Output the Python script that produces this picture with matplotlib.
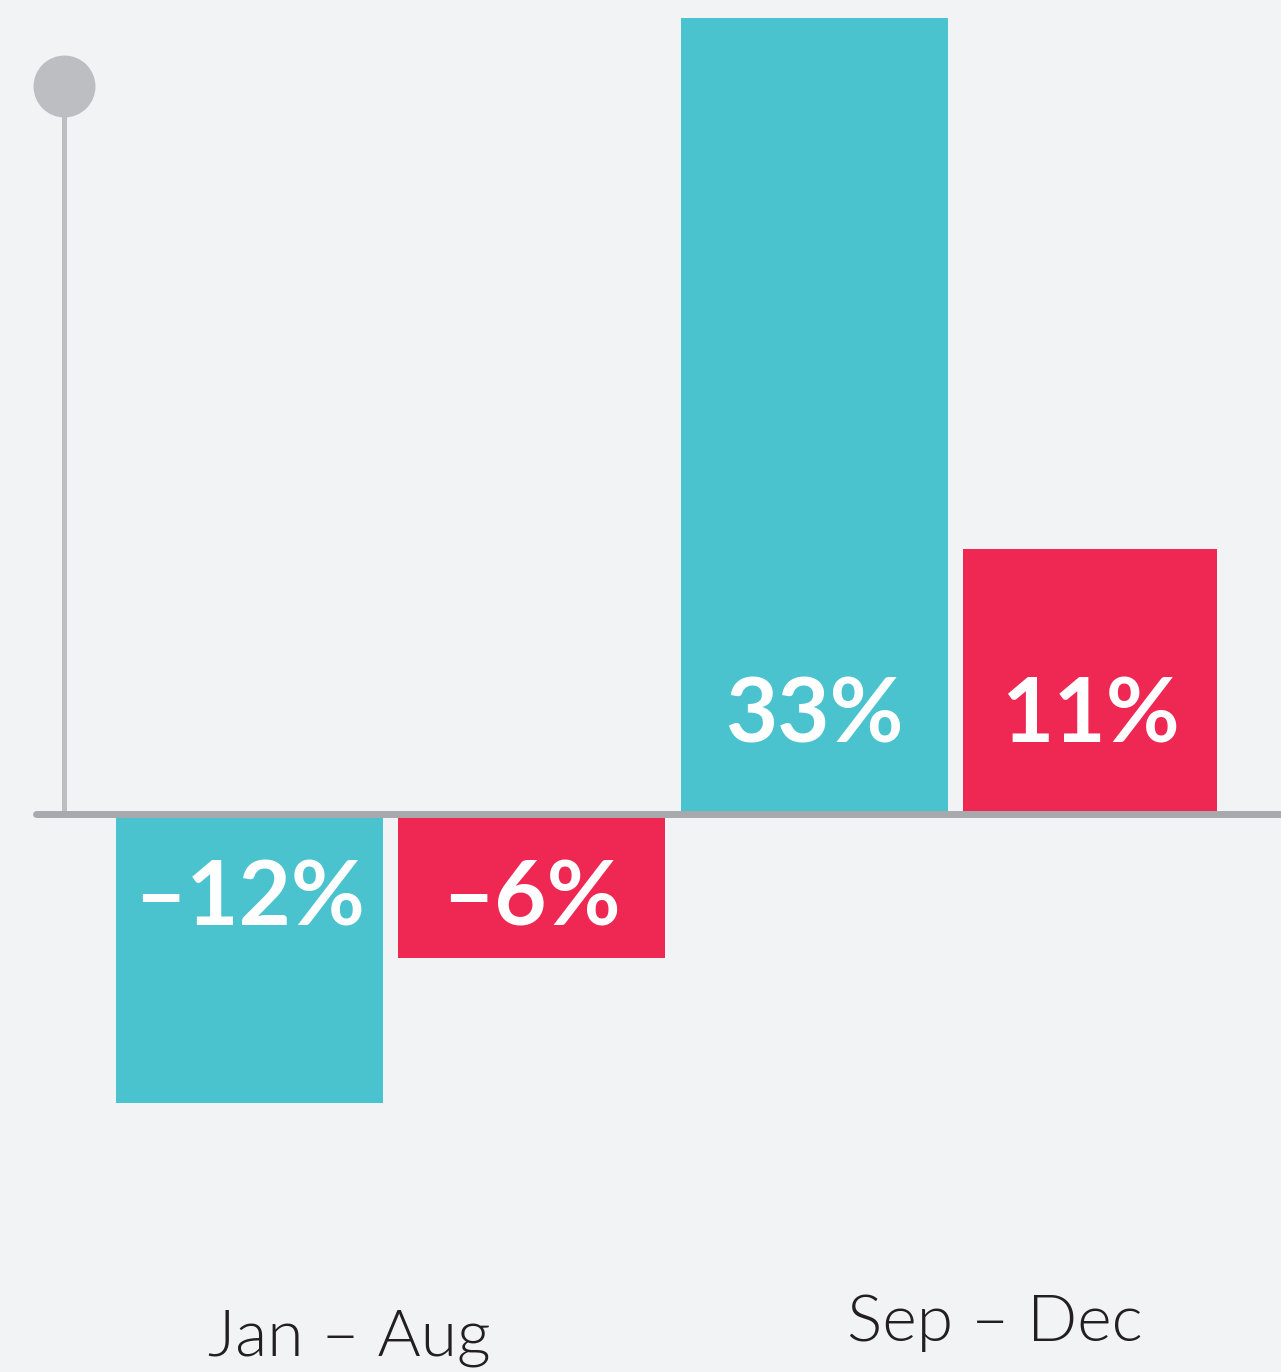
import numpy as np
import matplotlib.pyplot as plt

periods = ['Jan – Aug', 'Sep – Dec']
teal_vals = [-12, 33]
red_vals = [-6, 11]
teal_labels = ['–12%', '33%']
red_labels = ['–6%', '11%']

bg = '#f2f3f5'
teal = '#4bc3cf'
red = '#ee2853'

fig = plt.figure(figsize=(12.81, 13.72), dpi=100, facecolor=bg)
ax = fig.add_axes([0, 0, 1, 1])
ax.set_facecolor(bg)

# 1 x-unit = distance between the teal bars (~565 px), 1 y-unit = 1 %
ax.set_xlim(-0.4416, 1.8257)
ax.set_ylim(-23.17, 33.76)
ax.axis('off')

x = np.arange(len(periods))
ax.bar(x, teal_vals, width=0.4726, color=teal, zorder=2)
ax.bar(x + 0.263, red_vals, width=[0.4726, 0.4496], align='edge', color=red, zorder=2)
red_centers = x + 0.263 + np.array([0.4726, 0.4496]) / 2

# value labels
for xs, vals, labs in [(x, teal_vals, teal_labels), (red_centers, red_vals, red_labels)]:
    for xi, v, lab in zip(xs, vals, labs):
        dy = 51.5 if v > 0 else -80.3
        ax.annotate(lab, (xi, 0), xytext=(0, dy), textcoords='offset points',
                    ha='center', va='baseline', color='white', fontsize=65,
                    fontweight='bold', family='Lato', zorder=4)

# zero line and the lollipop y-axis
ax.plot([-0.377, 1.9], [0, 0], color='#a8a9ad', lw=5, solid_capstyle='round', zorder=3)
ax.plot([-0.3292, -0.3292], [0, 30.2], color='#bdbec2', lw=3.6, zorder=1)
ax.plot([-0.3292], [30.2], 'o', ms=44.6, color='#bdbec2', mec='none', zorder=1)

# period labels
label_x = [0.176, 1.3186]
label_y = [-22.47, -21.89]
for lx, ly, p in zip(label_x, label_y, periods):
    ax.text(lx, ly, p, ha='center', va='baseline', fontsize=47.5,
            fontweight=300, family='Lato', color='#231f20')

fig.savefig('out.png', dpi=100, facecolor=bg)
